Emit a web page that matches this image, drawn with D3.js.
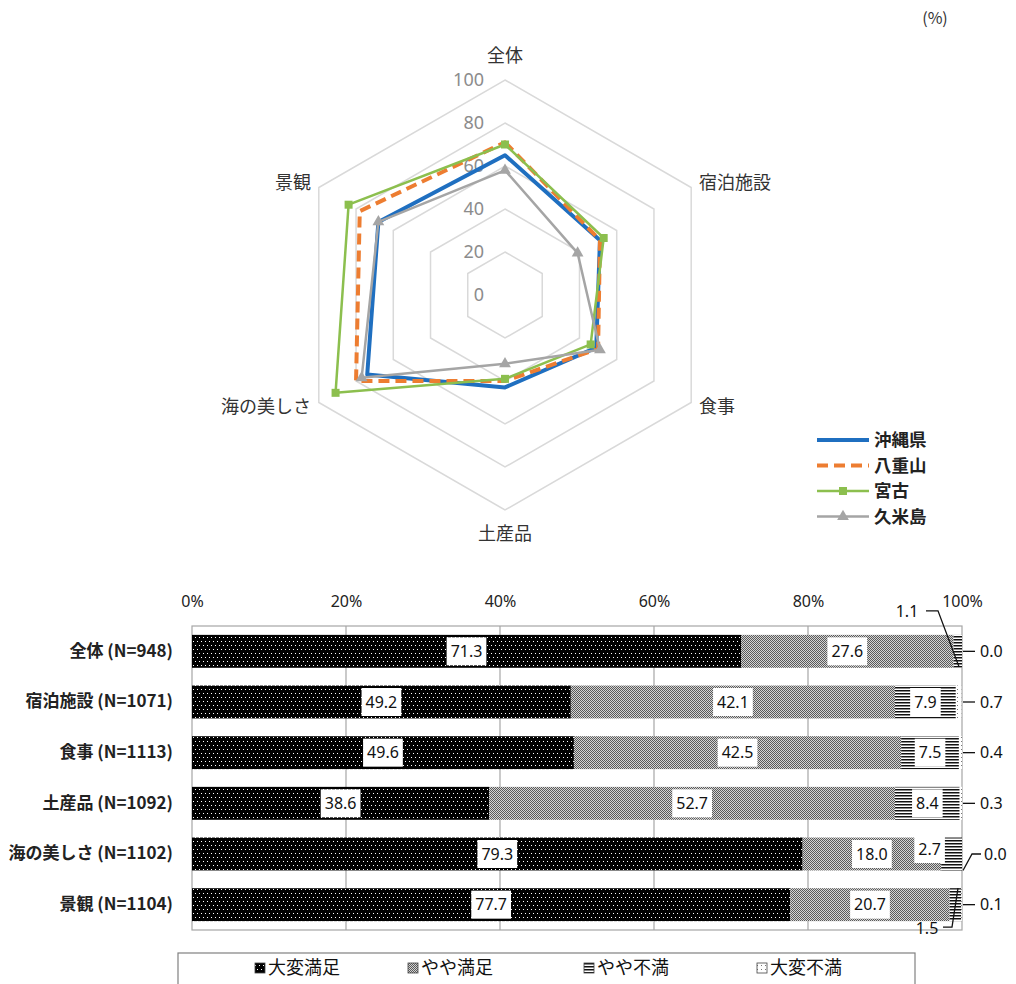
<!DOCTYPE html>
<html><head><meta charset="utf-8">
<script src="https://cdn.jsdelivr.net/npm/d3@7"></script>
<style>
body{margin:0;background:#fff;}
svg{display:block;font-family:"Noto Sans CJK JP","Noto Sans",sans-serif;}
</style></head><body>
<svg id="c" width="1016" height="984"></svg>
<script>
// ---------- data ----------
const radarAxes = ["全体","宿泊施設","食事","土産品","海の美しさ","景観"];
const radarSeriesNames = ["沖縄県","八重山","宮古","久米島"];
const okinawa  = [65, 51, 49, 43, 74, 68];
const yaeyama  = [71, 51, 50, 40, 80, 78];
const miyako   = [70, 53, 46, 39, 91, 84];
const kumejima = [58, 39, 51, 32, 77, 68];
const radarTicks = [0, 20, 40, 60, 80, 100];

const barCategories = ["全体 (N=948)","宿泊施設 (N=1071)","食事 (N=1113)","土産品 (N=1092)","海の美しさ (N=1102)","景観 (N=1104)"];
const barSeriesNames = ["大変満足","やや満足","やや不満","大変不満"];
const verySatisfied        = [71.3, 49.2, 49.6, 38.6, 79.3, 77.7];
const somewhatSatisfied    = [27.6, 42.1, 42.5, 52.7, 18.0, 20.7];
const somewhatDissatisfied = [1.1, 7.9, 7.5, 8.4, 2.7, 1.5];
const veryDissatisfied     = [0.0, 0.7, 0.4, 0.3, 0.0, 0.1];
const percentTicks = [0, 20, 40, 60, 80, 100];

// ---------- setup ----------
const svg = d3.select("#c");
const defs = svg.append("defs");

function pat(id, w, h, bg, build){
  const p = defs.append("pattern").attr("id", id).attr("patternUnits","userSpaceOnUse")
    .attr("width", w).attr("height", h);
  p.append("rect").attr("width", w).attr("height", h).attr("fill", bg);
  build(p);
}
pat("p0", 4, 8, "#000", p => {
  p.append("rect").attr("x",1).attr("y",1).attr("width",1).attr("height",1).attr("fill","#fff");
  p.append("rect").attr("x",3).attr("y",5).attr("width",1).attr("height",1).attr("fill","#fff");
});
pat("p1", 2, 2, "#d4d4d4", p => {
  p.append("rect").attr("x",0).attr("y",0).attr("width",1).attr("height",1).attr("fill","#5a5a5a");
  p.append("rect").attr("x",1).attr("y",1).attr("width",1).attr("height",1).attr("fill","#5a5a5a");
});
pat("p2", 3, 3, "#fff", p => {
  p.append("rect").attr("x",0).attr("y",0).attr("width",3).attr("height",1.5).attr("fill","#111");
});
pat("p3", 4, 4, "#fff", p => {
  p.append("rect").attr("x",1).attr("y",1).attr("width",1).attr("height",1).attr("fill","#777");
});
const patIds = ["p0","p1","p2","p3"];

// ---------- (%) ----------
svg.append("text").attr("x", 935).attr("y", 24).attr("text-anchor","middle")
  .attr("font-size", 16).attr("fill","#333").text("(%)");

// ---------- radar ----------
const cx = 505, cy = 295, R = 215;
const rScale = d3.scaleLinear().domain([0, 100]).range([0, R]);
const ang = i => i * Math.PI / 3;
const radial = d3.lineRadial().angle((d, i) => ang(i)).radius(d => rScale(d)).curve(d3.curveLinearClosed);
const rg = svg.append("g").attr("transform", `translate(${cx},${cy})`);

rg.selectAll("path.grid").data(radarTicks.filter(t => t > 0)).join("path")
  .attr("class","grid")
  .attr("d", t => radial(radarAxes.map(() => t)))
  .attr("fill","none").attr("stroke","#d9d9d9").attr("stroke-width",1.5);

rg.selectAll("text.tick").data(radarTicks).join("text")
  .attr("class","tick")
  .attr("x", -21).attr("y", t => -rScale(t)).attr("dy","0.36em")
  .attr("text-anchor","end").attr("font-size",18).attr("fill","#8c8c8c")
  .attr("font-family",'"Noto Sans",sans-serif')
  .text(t => t);

rg.selectAll("text.ax").data(radarAxes).join("text")
  .attr("class","ax")
  .attr("font-size",18).attr("fill","#333").attr("dy","0.36em")
  .each(function(d, i){
    const a = ang(i);
    const s = Math.sin(a), c = Math.cos(a);
    let x, y, anchor;
    if (Math.abs(s) < 0.01) { x = 0; y = -c * (R + 24); anchor = "middle"; }
    else { x = s * (R + 9); y = -c * (R + 9); anchor = s > 0 ? "start" : "end"; }
    d3.select(this).attr("x", x).attr("y", y).attr("text-anchor", anchor);
  })
  .text(d => d);

const radarSeries = [
  {name: radarSeriesNames[0], values: okinawa,  color: "#1f6fc0", width: 4,   dash: null,  marker: null},
  {name: radarSeriesNames[1], values: yaeyama,  color: "#ed7d31", width: 4,   dash: "11,6", marker: null},
  {name: radarSeriesNames[2], values: miyako,   color: "#8cbf4e", width: 2.5, dash: null,  marker: "square"},
  {name: radarSeriesNames[3], values: kumejima, color: "#a5a5a5", width: 2.5, dash: null,  marker: "triangle"}
];
const symSquare = d3.symbol(d3.symbolSquare, 64);
const symTri = d3.symbol(d3.symbolTriangle, 60);

radarSeries.forEach(s => {
  rg.append("path").attr("d", radial(s.values)).attr("fill","none")
    .attr("stroke", s.color).attr("stroke-width", s.width)
    .attr("stroke-dasharray", s.dash).attr("stroke-linejoin","round");
  if (s.marker) {
    rg.selectAll(null).data(s.values).join("path")
      .attr("transform", (v, i) => `translate(${rScale(v)*Math.sin(ang(i))},${-rScale(v)*Math.cos(ang(i))})`)
      .attr("d", s.marker === "square" ? symSquare() : symTri())
      .attr("fill", s.color);
  }
});

const lg = svg.append("g");
radarSeries.forEach((s, i) => {
  const yy = 440 + i * 25.5;
  lg.append("line").attr("x1", 817).attr("x2", 869).attr("y1", yy).attr("y2", yy)
    .attr("stroke", s.color).attr("stroke-width", s.width).attr("stroke-dasharray", s.dash);
  if (s.marker) {
    lg.append("path").attr("transform", `translate(843,${yy})`)
      .attr("d", s.marker === "square" ? symSquare() : symTri()).attr("fill", s.color);
  }
  lg.append("text").attr("x", 874).attr("y", yy).attr("dy","0.36em")
    .attr("font-size", 17.5).attr("font-weight","bold").attr("fill","#222").text(s.name);
});

// ---------- bar chart ----------
const x = d3.scaleLinear().domain([0, 100]).range([192, 962]);
const y = d3.scaleBand().domain(barCategories).range([626, 930]).paddingInner(0.35).paddingOuter(0.175);
const rows = barCategories.map((c, i) => ({
  cat: c, s0: verySatisfied[i], s1: somewhatSatisfied[i], s2: somewhatDissatisfied[i], s3: veryDissatisfied[i]
}));
const keys = ["s0","s1","s2","s3"];
const stacked = d3.stack().keys(keys)(rows);

const bg = svg.append("g");
bg.selectAll("line.gl").data(percentTicks.filter(t => t > 0 && t < 100)).join("line")
  .attr("x1", d => x(d)).attr("x2", d => x(d)).attr("y1", 626).attr("y2", 930)
  .attr("stroke","#a6a6a6").attr("stroke-width",1.2);
bg.append("rect").attr("x", x(0)).attr("y", 626).attr("width", x(100) - x(0)).attr("height", 304)
  .attr("fill","none").attr("stroke","#a6a6a6").attr("stroke-width",1.2);

const axT = bg.append("g").attr("transform","translate(0,626)")
  .call(d3.axisTop(x).tickValues(percentTicks).tickFormat(d => d + "%").tickSize(0).tickPadding(19));
axT.select(".domain").remove();
axT.selectAll("text").attr("font-size",16).attr("fill","#222").attr("font-family",'"Noto Sans","Noto Sans CJK JP",sans-serif');

const axL = bg.append("g").attr("transform",`translate(${x(0)},0)`)
  .call(d3.axisLeft(y).tickSize(0).tickPadding(19));
axL.select(".domain").remove();
axL.selectAll("text").attr("font-size",17).attr("font-weight","bold").attr("fill","#222")
  .attr("font-family",'"Noto Sans CJK JP","Noto Sans",sans-serif');

stacked.forEach((layer, k) => {
  bg.selectAll(null).data(layer).join("rect")
    .attr("x", d => x(d[0])).attr("width", d => Math.max(0, x(d[1]) - x(d[0])))
    .attr("y", d => y(d.data.cat)).attr("height", y.bandwidth())
    .attr("fill", `url(#${patIds[k]})`);
});

const labG = svg.append("g").attr("font-family",'"Noto Sans","Noto Sans CJK JP",sans-serif');
const specialOffset = {"4-2": [-22, -5]};
stacked.forEach((layer, k) => {
  layer.forEach((d, i) => {
    const v = d.data[keys[k]];
    if (k === 3 || (k === 2 && v < 2)) return;
    const off = specialOffset[i + "-" + k] || [0, 0];
    const cxv = (x(d[0]) + x(d[1])) / 2 + off[0];
    const cyv = y(d.data.cat) + y.bandwidth() / 2 + off[1];
    const t = labG.append("text").attr("x", cxv).attr("y", cyv).attr("dy","0.36em")
      .attr("text-anchor","middle").attr("font-size",16).attr("fill","#111").text(v.toFixed(1));
    const bb = t.node().getBBox();
    labG.insert("rect", () => t.node()).attr("x", bb.x - 4).attr("y", cyv - 14)
      .attr("width", bb.width + 8).attr("height", 28).attr("fill","#fff");
  });
});

const x100 = x(100);
function callout(pts, tx, ty, txt, anchor){
  labG.append("path").attr("d", d3.line()(pts)).attr("fill","none").attr("stroke","#111").attr("stroke-width",1.3);
  labG.append("text").attr("x", tx).attr("y", ty).attr("dy","0.36em").attr("text-anchor", anchor || "start")
    .attr("font-size",16).attr("fill","#111").text(txt);
}
rows.forEach((r, i) => {
  const top = y(r.cat), bot = top + y.bandwidth(), mid = top + y.bandwidth() / 2;
  const v = r.s3.toFixed(1);
  if (i === 4) {
    callout([[x100 + 1, bot], [x100 + 10, mid], [x100 + 19, mid]], x100 + 22, mid, v);
  } else {
    callout([[x100 + 1, mid], [x100 + 13, mid]], x100 + 18, mid, v);
  }
  if (i === 0) {
    callout([[x100 - 36, top - 24], [x100 - 24, top - 24], [x100 - 3, bot - 1]], x100 - 55, top - 24, r.s2.toFixed(1), "middle");
  }
  if (i === 5) {
    callout([[x100 - 19, bot + 6], [x100 - 10, bot + 6], [x100 - 4, top]], x100 - 35, bot + 7, r.s2.toFixed(1), "middle");
  }
});

const bl = svg.append("g");
bl.append("rect").attr("x", 178).attr("y", 953).attr("width", 737).attr("height", 45)
  .attr("fill","#fff").attr("stroke","#808080").attr("stroke-width",1.2);
const legX = [255, 408, 584, 757];
barSeriesNames.forEach((n, k) => {
  bl.append("rect").attr("x", legX[k]).attr("y", 963).attr("width", 10).attr("height", 10)
    .attr("fill", `url(#${patIds[k]})`).attr("stroke","#444").attr("stroke-width",0.8);
  bl.append("text").attr("x", legX[k] + 13).attr("y", 968).attr("dy","0.36em")
    .attr("font-size",18).attr("fill","#111").text(n);
});
</script>
</body></html>
